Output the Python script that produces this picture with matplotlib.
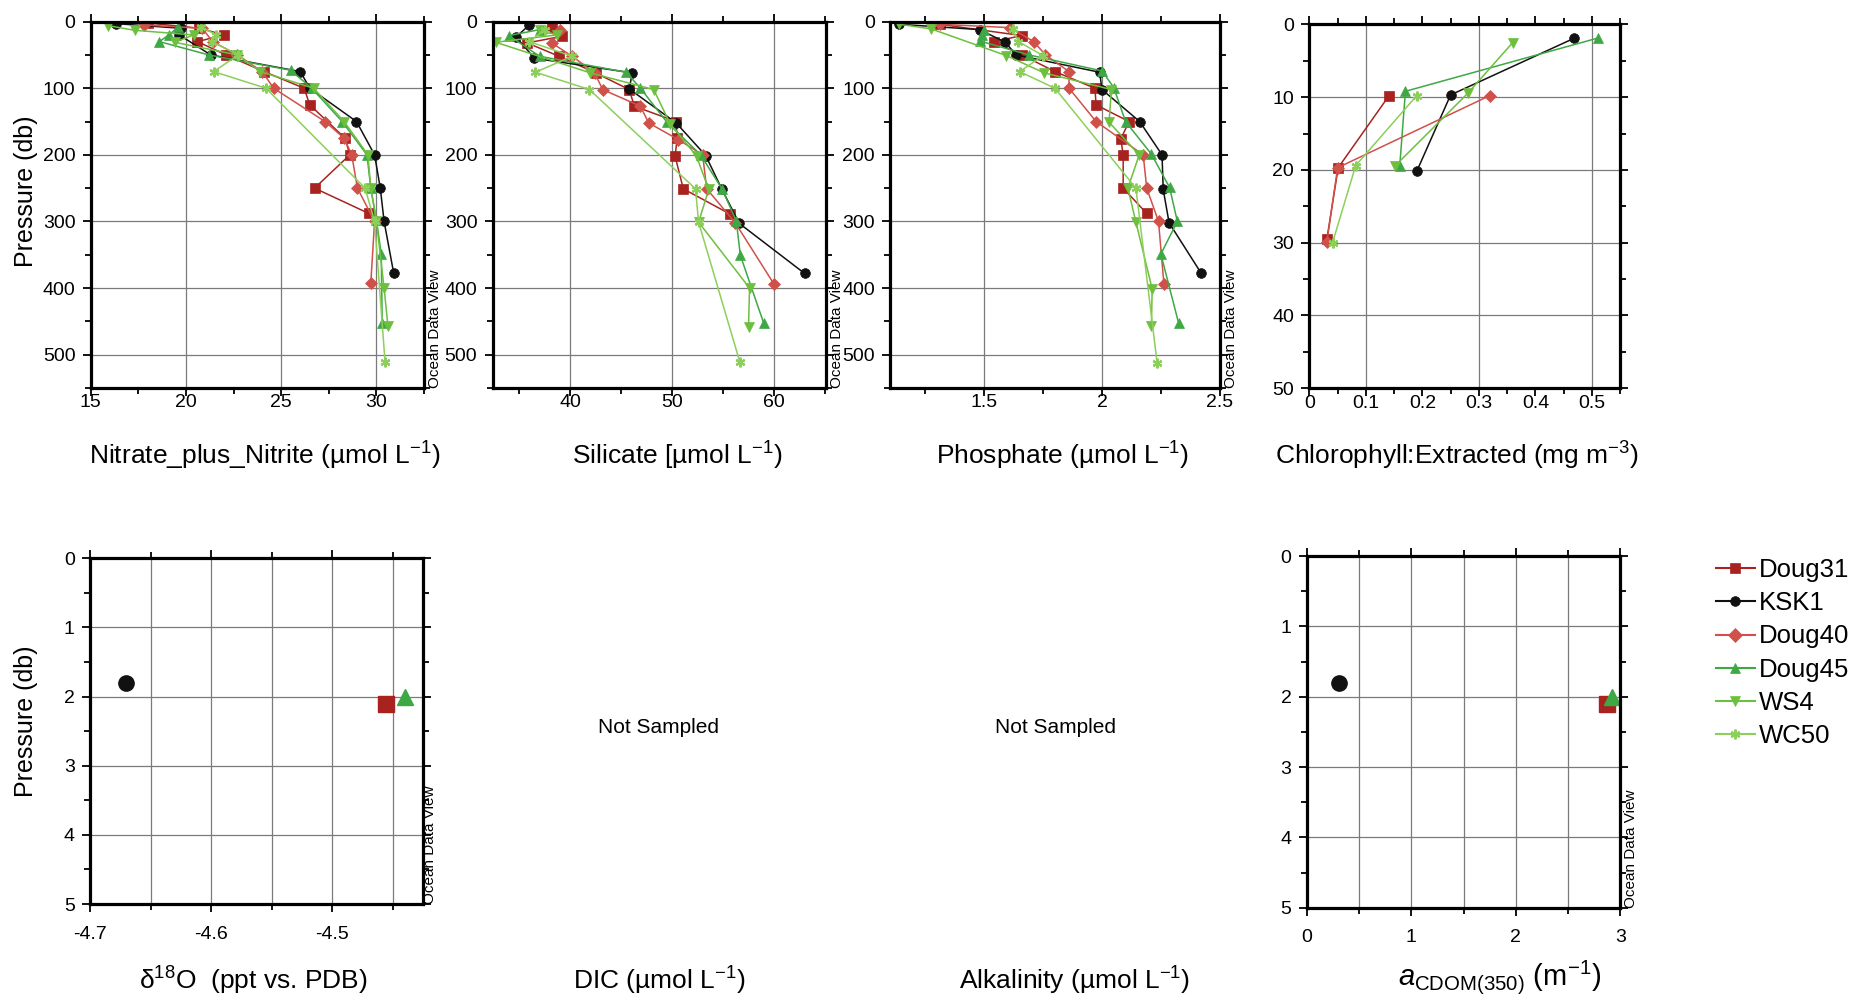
import numpy as np
import matplotlib
matplotlib.use("Agg")
import matplotlib.pyplot as plt
from matplotlib.ticker import MultipleLocator, FuncFormatter
from matplotlib.lines import Line2D

plt.rcParams['font.family'] = ['Liberation Sans', 'DejaVu Sans']
plt.rcParams['mathtext.fontset'] = 'custom'
plt.rcParams['mathtext.rm'] = 'Liberation Sans'
plt.rcParams['mathtext.it'] = 'Liberation Sans:italic'
plt.rcParams['axes.unicode_minus'] = False

# stations and their look
stations = ["Doug31", "KSK1", "Doug40", "Doug45", "WS4", "WC50"]
colors = ["#a8231f", "#111111", "#d0504a", "#3ea845", "#6dbf3e", "#8ccf5a"]
markers = ["s", "o", "D", "^", "v", (6, 2, 0)]

# ---- Nitrate_plus_Nitrite (pressure, value) ----
p_no3_doug31 = [2, 10, 20, 30, 50, 75, 100, 125, 175, 200, 250, 288]
no3_doug31 = [18.0, 20.7, 22.0, 20.6, 22.1, 24.1, 26.2, 26.5, 28.35, 28.6, 26.75, 29.6]
p_no3_ksk1 = [3, 10, 20, 50, 75, 100, 150, 200, 250, 300, 377]
no3_ksk1 = [16.3, 19.75, 19.65, 21.3, 26.0, 26.5, 28.95, 29.9, 30.2, 30.4, 30.9]
p_no3_doug40 = [5, 10, 30, 50, 75, 100, 150, 175, 200, 250, 300, 393]
no3_doug40 = [17.8, 20.85, 21.4, 22.7, 24.0, 24.6, 27.3, 28.3, 28.7, 29.0, 29.9, 29.7]
p_no3_doug45 = [8, 20, 30, 50, 73, 100, 150, 200, 250, 298, 349, 452]
no3_doug45 = [19.6, 19.1, 18.6, 21.2, 25.5, 26.6, 28.2, 29.5, 29.7, 30.0, 30.25, 30.3]
p_no3_ws4 = [6, 13, 20, 31, 50, 75, 100, 150, 200, 250, 300, 400, 457]
no3_ws4 = [15.9, 17.3, 20.4, 19.4, 22.7, 23.9, 26.7, 28.3, 29.55, 29.7, 30.0, 30.4, 30.6]
p_no3_wc50 = [8, 20, 30, 50, 75, 100, 250, 300, 511]
no3_wc50 = [20.8, 21.6, 21.35, 22.75, 21.45, 24.2, 29.4, 29.9, 30.45]

# ---- Silicate ----
p_si_doug31 = [10, 22, 32, 52, 77, 102, 127, 150, 175, 202, 251, 289]
si_doug31 = [38.2, 39.2, 35.8, 38.9, 42.5, 45.8, 46.3, 50.4, 50.5, 50.3, 51.1, 55.7]
p_si_ksk1 = [5, 23, 55, 77, 101, 152, 201, 252, 303, 378]
si_ksk1 = [36.0, 34.7, 36.5, 46.1, 45.8, 50.4, 53.3, 54.9, 56.6, 63.0]
p_si_doug40 = [13, 32, 52, 77, 102, 127, 152, 177, 200, 251, 302, 394]
si_doug40 = [39.0, 38.2, 40.2, 42.4, 43.2, 46.9, 47.7, 50.6, 53.0, 53.4, 56.2, 60.0]
p_si_doug45 = [12, 21, 52, 76, 100, 151, 200, 251, 299, 351, 453]
si_doug45 = [37.0, 34.0, 37.0, 45.5, 46.9, 49.5, 52.8, 54.9, 56.3, 56.7, 59.0]
p_si_ws4 = [12, 20, 31, 77, 102, 153, 202, 252, 301, 400, 459]
si_ws4 = [37.0, 38.7, 32.7, 42.0, 48.2, 49.8, 52.4, 53.6, 52.6, 57.6, 57.5]
p_si_wc50 = [12, 30, 52, 76, 102, 251, 301, 511]
si_wc50 = [37.5, 36.0, 40.2, 36.6, 41.9, 52.3, 52.6, 56.65]

# ---- Phosphate ----
p_po4_doug31 = [4, 21, 30, 50, 75, 100, 125, 150, 176, 200, 250, 288]
po4_doug31 = [1.31, 1.66, 1.54, 1.66, 1.80, 1.97, 1.975, 2.115, 2.08, 2.09, 2.09, 2.19]
p_po4_ksk1 = [4, 12, 31, 50, 76, 102, 150, 200, 252, 302, 377]
po4_ksk1 = [1.14, 1.48, 1.59, 1.635, 1.99, 2.0, 2.16, 2.255, 2.26, 2.285, 2.42]
p_po4_doug40 = [4, 9, 30, 50, 75, 100, 150, 200, 250, 300, 394]
po4_doug40 = [1.31, 1.61, 1.71, 1.76, 1.86, 1.86, 1.975, 2.175, 2.19, 2.24, 2.263]
p_po4_doug45 = [12, 20, 29, 50, 74, 99, 150, 199, 249, 300, 349, 452]
po4_doug45 = [1.50, 1.49, 1.48, 1.69, 2.0, 2.05, 2.1, 2.21, 2.287, 2.32, 2.25, 2.325]
p_po4_ws4 = [4, 11, 51, 77, 102, 151, 200, 250, 301, 401, 457]
po4_ws4 = [1.14, 1.275, 1.594, 1.755, 2.04, 2.03, 2.158, 2.11, 2.144, 2.213, 2.21]
p_po4_wc50 = [11, 30, 51, 75, 100, 250, 512]
po4_wc50 = [1.62, 1.645, 1.75, 1.65, 1.80, 2.144, 2.234]

# ---- Chlorophyll ----
p_chl_doug31 = [9.8, 19.7, 29.5]
chl_doug31 = [0.141, 0.051, 0.031]
p_chl_ksk1 = [1.9, 9.7, 20.2]
chl_ksk1 = [0.469, 0.25, 0.19]
p_chl_doug40 = [9.8, 19.7, 29.9]
chl_doug40 = [0.319, 0.05, 0.031]
p_chl_doug45 = [1.9, 9.2, 19.4]
chl_doug45 = [0.51, 0.17, 0.16]
p_chl_ws4 = [2.5, 9.5, 19.5]
chl_ws4 = [0.36, 0.28, 0.151]
p_chl_wc50 = [9.8, 19.4, 30.0]
chl_wc50 = [0.19, 0.082, 0.041]

# ---- surface only: d18O and aCDOM (Doug31, KSK1, Doug45) ----
surf_stations = ["Doug31", "KSK1", "Doug45"]
p_surf = [2.1, 1.8, 2.0]
d18o = [-4.456, -4.67, -4.44]
acdom = [2.87, 0.31, 2.92]

fig = plt.figure(figsize=(18.52, 10.01), dpi=100)

def fmt(v, pos):
    return "%g" % round(v, 3)

def style(ax, xlim, ylim, xmaj, xmin, ymaj, ymin, xgrid='major', odv=3, xpad=-1.5):
    ax.set_xlim(*xlim)
    ax.set_ylim(ylim[1], ylim[0])
    ax.xaxis.set_major_locator(MultipleLocator(xmaj))
    ax.xaxis.set_minor_locator(MultipleLocator(xmin))
    ax.yaxis.set_major_locator(MultipleLocator(ymaj))
    ax.yaxis.set_minor_locator(MultipleLocator(ymin))
    ax.xaxis.set_major_formatter(FuncFormatter(fmt))
    ax.yaxis.set_major_formatter(FuncFormatter(fmt))
    ax.tick_params(which='both', direction='out', top=True, right=True, width=1.3, labelsize=14, pad=5)
    ax.tick_params(axis='x', which='both', pad=xpad)
    ax.tick_params(which='major', length=6)
    ax.tick_params(which='minor', length=4)
    for s in ax.spines.values():
        s.set_linewidth(2.3)
    if xgrid is not None:
        ax.grid(True, which=xgrid, axis='x', color='#7a7a7a', lw=0.9)
    ax.grid(True, which='major', axis='y', color='#7a7a7a', lw=0.9)
    ax.set_axisbelow(True)
    if odv is not None:
        ax.annotate("Ocean Data View", xy=(1, 0), xycoords='axes fraction', xytext=(odv, 0),
                    textcoords='offset points', rotation=90, va='bottom', ha='left', fontsize=11)

def profiles(ax, pairs, ms=7):
    for i, (p, v) in enumerate(pairs):
        ax.plot(v, p, color=colors[i], marker=markers[i], markersize=ms if i != 2 else ms - 1,
                markeredgewidth=1.6 if i == 5 else 0.5, markeredgecolor=colors[i], lw=1.1)

# top row
ax1 = fig.add_axes([0.049, 0.6124, 0.180, 0.366])
profiles(ax1, [(p_no3_doug31, no3_doug31), (p_no3_ksk1, no3_ksk1), (p_no3_doug40, no3_doug40),
               (p_no3_doug45, no3_doug45), (p_no3_ws4, no3_ws4), (p_no3_wc50, no3_wc50)])
style(ax1, (15, 32.5), (0, 550), 5, 2.5, 100, 50)

ax2 = fig.add_axes([0.266, 0.6124, 0.180, 0.366])
profiles(ax2, [(p_si_doug31, si_doug31), (p_si_ksk1, si_ksk1), (p_si_doug40, si_doug40),
               (p_si_doug45, si_doug45), (p_si_ws4, si_ws4), (p_si_wc50, si_wc50)])
style(ax2, (32.4, 65.1), (0, 550), 10, 5, 100, 50)

ax3 = fig.add_axes([0.4806, 0.6124, 0.178, 0.366])
profiles(ax3, [(p_po4_doug31, po4_doug31), (p_po4_ksk1, po4_ksk1), (p_po4_doug40, po4_doug40),
               (p_po4_doug45, po4_doug45), (p_po4_ws4, po4_ws4), (p_po4_wc50, po4_wc50)])
style(ax3, (1.1, 2.5), (0, 550), 0.5, 0.25, 100, 50)

ax4 = fig.add_axes([0.707, 0.6121, 0.1678, 0.3636])
profiles(ax4, [(p_chl_doug31, chl_doug31), (p_chl_ksk1, chl_ksk1), (p_chl_doug40, chl_doug40),
               (p_chl_doug45, chl_doug45), (p_chl_ws4, chl_ws4), (p_chl_wc50, chl_wc50)])
style(ax4, (0, 0.55), (0, 50), 0.1, 0.05, 10, 5, xgrid=None, odv=None)
for gx in [0.1, 0.3, 0.5]:
    ax4.axvline(gx, color='#7a7a7a', lw=0.9, zorder=0)

# bottom row
surf_idx = [stations.index(s) for s in surf_stations]
ax5 = fig.add_axes([0.0486, 0.0969, 0.18, 0.3453])
for k, i in enumerate(surf_idx):
    ax5.plot(d18o[k], p_surf[k], linestyle='none', marker=markers[i], color=colors[i], markersize=11)
style(ax5, (-4.7, -4.425), (0, 5), 0.1, 0.05, 1, 0.5, xgrid='both', odv=0, xpad=9.5)

ax6 = fig.add_axes([0.7056, 0.0932, 0.1693, 0.3513])
for k, i in enumerate(surf_idx):
    ax6.plot(acdom[k], p_surf[k], linestyle='none', marker=markers[i], color=colors[i], markersize=11)
style(ax6, (0, 3), (0, 5), 1, 0.5, 1, 0.5, xgrid='both', odv=3, xpad=9.5)

# labels
fig.text(0.0138, 0.809, "Pressure (db)", rotation=90, fontsize=18, ha='center', va='center')
fig.text(0.0138, 0.2797, "Pressure (db)", rotation=90, fontsize=18, ha='center', va='center')
xl = 0.5445
fig.text(0.1428, xl, "Nitrate_plus_Nitrite (µmol L$^{-1}$)", fontsize=19, ha='center', va='center')
fig.text(0.3656, xl, "Silicate [µmol L$^{-1}$)", fontsize=19, ha='center', va='center')
fig.text(0.574, xl, "Phosphate (µmol L$^{-1}$)", fontsize=19, ha='center', va='center')
fig.text(0.7867, xl, "Chlorophyll:Extracted (mg m$^{-3}$)", fontsize=19, ha='center', va='center')
fig.text(0.137, 0.02, "δ$^{18}$O  (ppt vs. PDB)", fontsize=19, ha='center', va='center')
fig.text(0.3558, 0.02, "DIC (µmol L$^{-1}$)", fontsize=19, ha='center', va='center')
fig.text(0.5804, 0.02, "Alkalinity (µmol L$^{-1}$)", fontsize=19, ha='center', va='center')
fig.text(0.81, 0.024, "$a_{\\mathrm{CDOM(350)}}$ (m$^{-1}$)", fontsize=21, ha='center', va='center')
fig.text(0.3558, 0.2737, "Not Sampled", fontsize=15, ha='center', va='center')
fig.text(0.5697, 0.2737, "Not Sampled", fontsize=15, ha='center', va='center')

# legend
handles = [Line2D([], [], color=colors[i], marker=markers[i], markersize=7,
                  markeredgewidth=1.5 if i == 5 else 0.5, lw=1.5) for i in range(len(stations))]
fig.legend(handles, stations, loc='upper left', bbox_to_anchor=(1716 / 1852, 1 - 558 / 1001),
           frameon=False, fontsize=18.5, handlelength=1.5, handletextpad=0.15, labelspacing=0.36,
           borderaxespad=0, borderpad=0)

fig.savefig("out.png", dpi=100, facecolor='white')
